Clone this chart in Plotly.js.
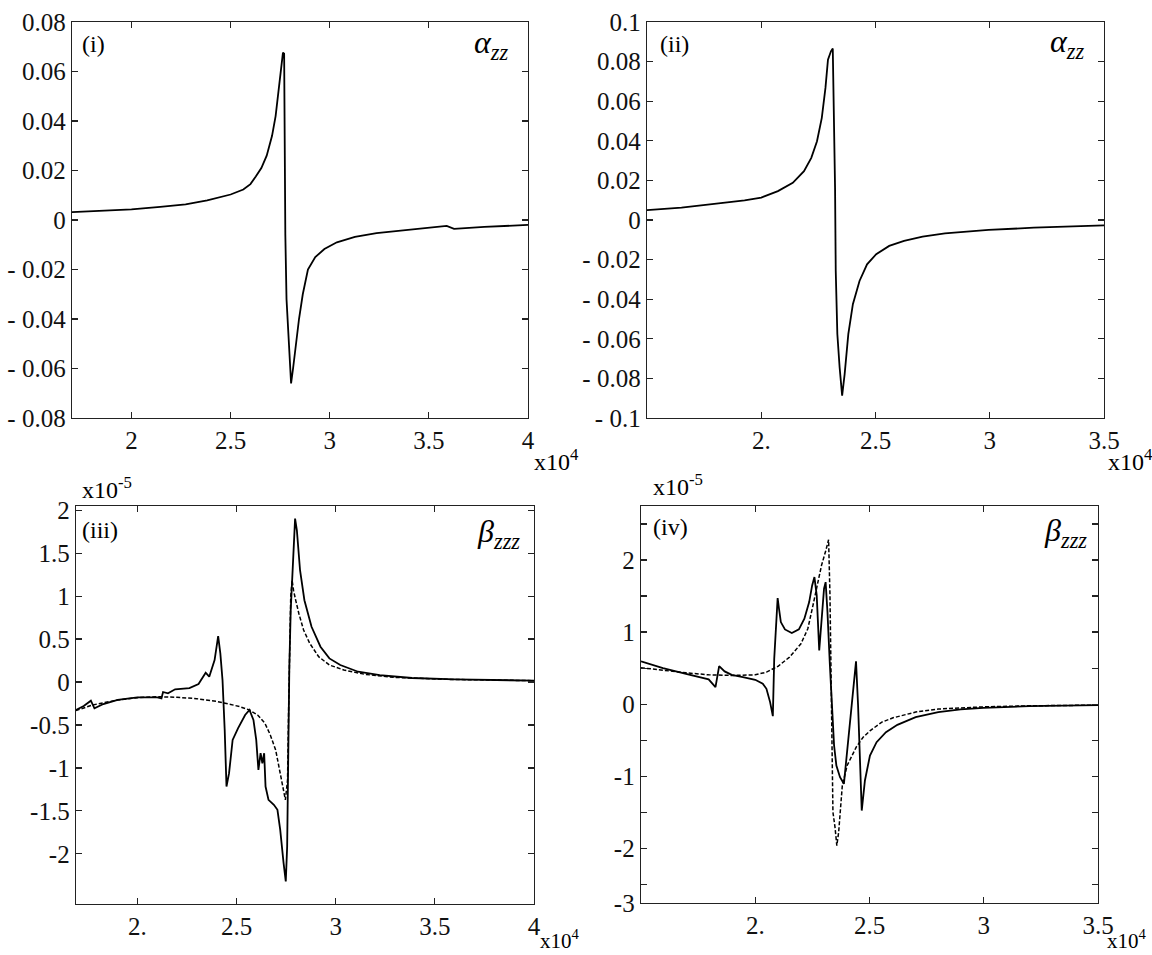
<!DOCTYPE html>
<html>
<head>
<meta charset="utf-8">
<script src="https://cdn.plot.ly/plotly-3.0.1.min.js"></script>
<style>
  html, body { margin: 0; padding: 0; background: #fff; }
  #chart { width: 1152px; height: 955px; }
</style>
</head>
<body>
<div id="chart"></div>
<script>
// ---------- Data (x in units of 10^4) ----------
// Panel (i): alpha_zz
const panel1X = [1.70, 1.873, 2.00, 2.145, 2.273, 2.382, 2.455, 2.50, 2.564, 2.60, 2.627, 2.655, 2.682, 2.709, 2.727, 2.742, 2.753, 2.764, 2.770, 2.773, 2.776, 2.782, 2.791, 2.800, 2.805, 2.815, 2.827, 2.845, 2.864, 2.890, 2.927, 2.973, 3.036, 3.127, 3.236, 3.380, 3.510, 3.590, 3.627, 3.780, 4.00];
const panel1Y = [0.0032, 0.0039, 0.0043, 0.0053, 0.0063, 0.0079, 0.0092, 0.0103, 0.0123, 0.0145, 0.0176, 0.021, 0.026, 0.034, 0.042, 0.052, 0.061, 0.0676, 0.0672, 0.030, -0.006, -0.032, -0.046, -0.056, -0.066, -0.060, -0.051, -0.040, -0.030, -0.020, -0.015, -0.0117, -0.009, -0.0068, -0.0053, -0.0041, -0.0033, -0.0024, -0.0036, -0.0028, -0.0020];

// Panel (ii): alpha_zz
const panel2X = [1.50, 1.651, 1.813, 1.927, 2.00, 2.073, 2.138, 2.187, 2.219, 2.244, 2.265, 2.281, 2.292, 2.305, 2.313, 2.318, 2.323, 2.326, 2.333, 2.343, 2.354, 2.365, 2.381, 2.401, 2.430, 2.463, 2.503, 2.560, 2.625, 2.706, 2.804, 2.995, 3.193, 3.50];
const panel2Y = [0.0050, 0.0062, 0.0084, 0.0099, 0.0113, 0.0146, 0.0188, 0.0247, 0.0314, 0.0398, 0.0516, 0.0667, 0.081, 0.0852, 0.0866, 0.0566, 0.0163, -0.0257, -0.0576, -0.0745, -0.0887, -0.0778, -0.0576, -0.0425, -0.0308, -0.0224, -0.0173, -0.0131, -0.0106, -0.0084, -0.0067, -0.0050, -0.0039, -0.0027];

// Panel (iii): beta_zzz (units of 10^-5)
const panel3X = [1.689, 1.729, 1.765, 1.783, 1.828, 1.900, 2.000, 2.100, 2.121, 2.129, 2.154, 2.190, 2.262, 2.308, 2.344, 2.362, 2.389, 2.407, 2.418, 2.429, 2.440, 2.449, 2.462, 2.480, 2.507, 2.543, 2.565, 2.585, 2.599, 2.610, 2.621, 2.630, 2.639, 2.646, 2.661, 2.688, 2.706, 2.720, 2.737, 2.748, 2.755, 2.760, 2.766, 2.773, 2.784, 2.795, 2.804, 2.820, 2.842, 2.878, 2.923, 2.968, 3.023, 3.113, 3.222, 3.385, 3.602, 3.801, 4.000];
const panel3Solid = [-0.326, -0.279, -0.217, -0.306, -0.256, -0.209, -0.178, -0.178, -0.19, -0.116, -0.132, -0.085, -0.070, -0.023, 0.109, 0.062, 0.256, 0.535, 0.333, 0.023, -0.558, -1.217, -1.062, -0.674, -0.539, -0.384, -0.326, -0.442, -0.674, -1.023, -0.829, -0.946, -0.829, -1.217, -1.372, -1.430, -1.488, -1.721, -2.109, -2.322, -1.915, -0.752, 0.178, 0.837, 1.380, 1.903, 1.767, 1.302, 0.953, 0.643, 0.411, 0.275, 0.198, 0.120, 0.081, 0.047, 0.031, 0.023, 0.016];
const panel3DashX = [1.689, 1.774, 1.900, 2.000, 2.100, 2.199, 2.299, 2.398, 2.462, 2.516, 2.565, 2.606, 2.643, 2.670, 2.697, 2.715, 2.733, 2.746, 2.757, 2.762, 2.767, 2.773, 2.780, 2.787, 2.798, 2.814, 2.838, 2.869, 2.914, 2.968, 3.041, 3.149, 3.294, 3.566, 4.000];
const panel3Dash = [-0.333, -0.267, -0.209, -0.182, -0.171, -0.178, -0.194, -0.225, -0.256, -0.287, -0.326, -0.384, -0.481, -0.616, -0.791, -0.984, -1.217, -1.372, -1.14, -0.364, 0.488, 0.992, 1.186, 1.070, 0.953, 0.798, 0.605, 0.450, 0.295, 0.198, 0.140, 0.089, 0.054, 0.031, 0.016];

// Panel (iv): beta_zzz (units of 10^-5)
const panel4X = [1.500, 1.596, 1.697, 1.796, 1.826, 1.834, 1.842, 1.866, 1.897, 1.946, 2.000, 2.033, 2.049, 2.065, 2.077, 2.083, 2.091, 2.098, 2.104, 2.112, 2.130, 2.160, 2.191, 2.215, 2.236, 2.249, 2.259, 2.269, 2.280, 2.292, 2.301, 2.308, 2.316, 2.326, 2.336, 2.345, 2.355, 2.371, 2.388, 2.401, 2.419, 2.432, 2.441, 2.450, 2.456, 2.461, 2.466, 2.480, 2.502, 2.531, 2.572, 2.622, 2.702, 2.801, 2.899, 2.998, 3.199, 3.500];
const panel4Solid = [0.593, 0.500, 0.421, 0.343, 0.236, 0.398, 0.528, 0.454, 0.407, 0.375, 0.338, 0.282, 0.213, 0.028, -0.167, 0.630, 1.093, 1.472, 1.324, 1.139, 1.037, 0.986, 1.037, 1.185, 1.417, 1.648, 1.764, 1.509, 0.745, 1.278, 1.602, 1.694, 1.278, 0.583, -0.019, -0.574, -0.852, -1.014, -1.106, -0.713, -0.157, 0.259, 0.593, -0.019, -0.667, -1.269, -1.477, -1.060, -0.713, -0.528, -0.389, -0.287, -0.181, -0.111, -0.074, -0.051, -0.028, -0.014];
const panel4DashX = [1.500, 1.596, 1.697, 1.796, 1.897, 2.000, 2.049, 2.101, 2.150, 2.200, 2.230, 2.251, 2.270, 2.290, 2.309, 2.321, 2.327, 2.334, 2.340, 2.349, 2.357, 2.365, 2.381, 2.402, 2.423, 2.443, 2.472, 2.502, 2.554, 2.603, 2.702, 2.801, 2.998, 3.199, 3.500];
const panel4Dash = [0.505, 0.468, 0.435, 0.407, 0.398, 0.407, 0.444, 0.528, 0.653, 0.838, 1.046, 1.347, 1.648, 1.926, 2.134, 2.282, 1.509, -0.111, -1.500, -1.708, -1.963, -1.778, -1.130, -0.852, -0.713, -0.590, -0.460, -0.370, -0.250, -0.190, -0.110, -0.068, -0.038, -0.023, -0.014];

// ---------- Tick values / labels ----------
const xTicks1 = [2, 2.5, 3, 3.5, 4];
const xTickText1 = ["2", "2.5", "3", "3.5", "4"];
const xTicks2 = [2, 2.5, 3, 3.5];
const xTickText2 = ["2.", "2.5", "3", "3.5"];
const xTicks3 = [2, 2.5, 3, 3.5, 4];
const xTickText3 = ["2.", "2.5", "3", "3.5", "4"];
const xTicks4 = [2, 2.5, 3, 3.5];
const xTickText4 = ["2.", "2.5", "3", "3.5"];

const yTicks1 = [-0.08, -0.06, -0.04, -0.02, 0, 0.02, 0.04, 0.06, 0.08];
const yTickText1 = ["- 0.08", "- 0.06", "- 0.04", "- 0.02", "0", "0.02", "0.04", "0.06", "0.08"];
const yTicks2 = [-0.1, -0.08, -0.06, -0.04, -0.02, 0, 0.02, 0.04, 0.06, 0.08, 0.1];
const yTickText2 = ["- 0.1", "- 0.08", "- 0.06", "- 0.04", "- 0.02", "0", "0.02", "0.04", "0.06", "0.08", "0.1"];
const yTicks3 = [-2, -1.5, -1, -0.5, 0, 0.5, 1, 1.5, 2];
const yTickText3 = ["-2", "-1.5", "-1", "-0.5", "0", "0.5", "1", "1.5", "2"];
const yTicks4 = [-2.76, -2, -1, 0, 1, 2];
const yTickText4 = ["-3", "-2", "-1", "0", "1", "2"];
const yMinorTicks4 = [-2.5, -1.5, -0.5, 0.5, 1.5, 2.5];

// ---------- Layout helpers ----------
const W = 1152, H = 955;
const px = v => v / W;
const py = v => 1 - v / H;
const FONT = "Liberation Serif";

function axisStyle(extra) {
  return Object.assign({
    showline: true, linecolor: "#222", linewidth: 1.3, mirror: "ticks",
    ticks: "inside", ticklen: 6, tickwidth: 1.2, tickcolor: "#222",
    showgrid: false, zeroline: false, tickmode: "array",
    tickfont: { family: FONT, size: 25, color: "#111" }
  }, extra);
}

const solid = { color: "#000", width: 1.8 };
const dashed = { color: "#000", width: 1.5, dash: "4px,2px" };

const traces = [
  { x: panel1X, y: panel1Y, xaxis: "x", yaxis: "y", mode: "lines", line: solid },
  { x: panel2X, y: panel2Y, xaxis: "x2", yaxis: "y2", mode: "lines", line: solid },
  { x: panel3DashX, y: panel3Dash, xaxis: "x3", yaxis: "y3", mode: "lines", line: dashed },
  { x: panel3X, y: panel3Solid, xaxis: "x3", yaxis: "y3", mode: "lines", line: solid },
  { x: panel4DashX, y: panel4Dash, xaxis: "x4", yaxis: "y4", mode: "lines", line: dashed },
  { x: panel4X, y: panel4Solid, xaxis: "x4", yaxis: "y4", mode: "lines", line: solid }
];

function ann(text, x, y, xanchor, yanchor, size) {
  return {
    text: text, xref: "paper", yref: "paper", x: px(x), y: py(y),
    xanchor: xanchor, yanchor: yanchor, showarrow: false, borderpad: 0,
    font: { family: FONT, size: size, color: "#000" }
  };
}

const annotations = [
  ann("x10<sup>4</sup>", 533, 460, "left", "middle", 24),
  ann("x10<sup>4</sup>", 1107, 460, "left", "middle", 24),
  ann("x10<sup>4</sup>", 539, 939, "left", "middle", 21),
  ann("x10<sup>4</sup>", 1106, 939, "left", "middle", 21),
  ann("x10<sup>-5</sup>", 81, 488, "left", "middle", 24),
  ann("x10<sup>-5</sup>", 652, 485, "left", "middle", 24),
  ann("(i)", 81, 44, "left", "middle", 24),
  ann("(ii)", 659, 44, "left", "middle", 24),
  ann("(iii)", 81, 530, "left", "middle", 24),
  ann("(iv)", 652, 527, "left", "middle", 24),
  ann("<i>α</i><sub><i>zz</i></sub>", 510, 45, "right", "middle", 32),
  ann("<i>α</i><sub><i>zz</i></sub>", 1086, 43, "right", "middle", 32),
  ann("<i>β</i><sub><i>zzz</i></sub>", 521, 533, "right", "middle", 32),
  ann("<i>β</i><sub><i>zzz</i></sub>", 1088, 532, "right", "middle", 32)
];

const layout = {
  width: W, height: H,
  margin: { l: 0, r: 0, t: 0, b: 0 },
  paper_bgcolor: "#fff", plot_bgcolor: "#fff",
  showlegend: false,
  font: { family: FONT, size: 24, color: "#000" },
  xaxis: axisStyle({ domain: [px(72), px(528)], range: [1.7, 4], anchor: "y", tickvals: xTicks1, ticktext: xTickText1 }),
  yaxis: axisStyle({ domain: [py(418), py(22)], range: [-0.08, 0.08], anchor: "x", tickvals: yTicks1, ticktext: yTickText1 }),
  xaxis2: axisStyle({ domain: [px(647), px(1104)], range: [1.5, 3.5], anchor: "y2", tickvals: xTicks2, ticktext: xTickText2 }),
  yaxis2: axisStyle({ domain: [py(418), py(22)], range: [-0.1, 0.1], anchor: "x2", tickvals: yTicks2, ticktext: yTickText2 }),
  xaxis3: axisStyle({ domain: [px(76), px(534)], range: [1.69, 4], anchor: "y3", tickvals: xTicks3, ticktext: xTickText3 }),
  yaxis3: axisStyle({ domain: [py(904), py(506)], range: [-2.585, 2.05], anchor: "x3", tickvals: yTicks3, ticktext: yTickText3 }),
  xaxis4: axisStyle({ domain: [px(641), px(1098)], range: [1.5, 3.5], anchor: "y4", tickvals: xTicks4, ticktext: xTickText4 }),
  yaxis4: axisStyle({ domain: [py(903), py(506)], range: [-2.76, 2.75], anchor: "x4", tickvals: yTicks4, ticktext: yTickText4,
    minor: { tickmode: "array", tickvals: yMinorTicks4, ticks: "inside", ticklen: 6, tickwidth: 1.2, tickcolor: "#222", showgrid: false } }),
  annotations: annotations
};

Plotly.newPlot("chart", traces, layout, { staticPlot: true, displayModeBar: false });
</script>
</body>
</html>
